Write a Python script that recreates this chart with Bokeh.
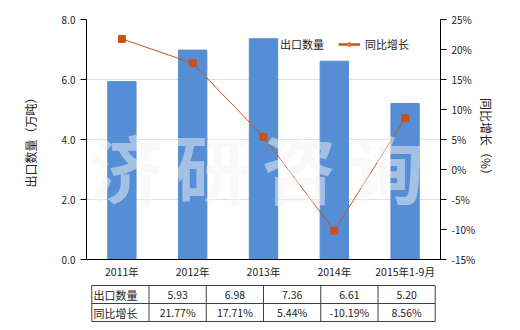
from bokeh.plotting import figure
from bokeh.models import (Range1d, LinearAxis, Legend, LegendItem, Label,
                          PrintfTickFormatter, ColumnDataSource, FixedTicker)
from bokeh.layouts import column
from bokeh.core.properties import value
from bokeh.embed import file_html
from bokeh.resources import INLINE

categories = ["2011年", "2012年", "2013年", "2014年", "2015年1-9月"]
export_qty = [5.93, 6.98, 7.36, 6.61, 5.20]
yoy_growth = [21.77, 17.71, 5.44, -10.19, 8.56]
qty_labels = ["5.93", "6.98", "7.36", "6.61", "5.20"]
growth_labels = ["21.77%", "17.71%", "5.44%", "-10.19%", "8.56%"]
row_names = ["出口数量", "同比增长"]
left_ticks = [0, 2, 4, 6, 8]
right_ticks = [-15, -10, -5, 0, 5, 10, 15, 20, 25]
watermark = ["济", "研", "咨", "询"]

FONT = "Noto Sans CJK SC"
BAR_COLOR = "#558ed5"
LINE_COLOR = "#c8521a"
TXT = "#222222"

p = figure(width=520, height=284, x_range=categories, y_range=Range1d(0, 8),
           output_backend="svg", toolbar_location=None,
           min_border_left=86, min_border_right=80, min_border_top=19,
           min_border_bottom=25)
p.outline_line_color = None
p.extra_y_ranges = {"pct": Range1d(-15, 25)}

src = ColumnDataSource(dict(cat=categories, qty=export_qty, g=yoy_growth))
bars = p.vbar(x="cat", top="qty", width=0.4, source=src, color=BAR_COLOR)
p.line(x="cat", y="g", source=src, y_range_name="pct", color=LINE_COLOR, line_width=1)
p.scatter(x="cat", y="g", source=src, y_range_name="pct", marker="square",
          size=7, color=LINE_COLOR)

# legend proxies (not drawn in the plot: NaN values)
proxy = ColumnDataSource(dict(cat=[categories[0]], g=[float("nan")]))
lg_line = p.line(x="cat", y="g", source=proxy, y_range_name="pct", color=LINE_COLOR, line_width=2.5)
lg_pt = p.scatter(x="cat", y="g", source=proxy, y_range_name="pct", marker="square",
                  size=6, color="#e07030")

# left axis
yax = p.yaxis[0]
yax.ticker = FixedTicker(ticks=left_ticks)
yax.formatter = PrintfTickFormatter(format="%.1f")
yax.axis_label = "出口数量（万吨）"
yax.axis_label_text_font = FONT
yax.axis_label_text_font_size = "12px"
yax.axis_label_text_font_style = "normal"
yax.axis_label_text_color = TXT
yax.axis_label_standoff = 20
yax.major_label_text_font = FONT
yax.major_label_text_font_size = "10px"
yax.major_label_text_color = TXT
yax.major_tick_out = 6
yax.major_tick_in = 0
yax.minor_tick_line_color = None
yax.axis_line_color = "black"
yax.major_tick_line_color = "black"

rax = LinearAxis(y_range_name="pct", ticker=FixedTicker(ticks=right_ticks),
                 formatter=PrintfTickFormatter(format="%d%%"))
rax.axis_label = "同比增长（%）"
rax.axis_label_text_font = FONT
rax.axis_label_text_font_size = "12px"
rax.axis_label_text_font_style = "normal"
rax.axis_label_text_color = TXT
rax.axis_label_standoff = 0
rax.major_label_text_font = FONT
rax.major_label_text_font_size = "10px"
rax.major_label_text_color = TXT
rax.major_tick_out = 6
rax.major_tick_in = 0
rax.minor_tick_line_color = None
rax.axis_line_color = "black"
p.add_layout(rax, "right")

xax = p.xaxis[0]
xax.major_label_text_font = FONT
xax.major_label_text_font_size = "10.5px"
xax.major_label_text_color = TXT
xax.major_tick_line_color = None
xax.major_tick_out = 0
xax.major_tick_in = 0
xax.axis_line_color = "black"
xax.major_label_standoff = 4

p.xgrid.grid_line_color = None
p.ygrid.ticker = FixedTicker(ticks=left_ticks)
p.ygrid.grid_line_color = "#e0e0e0"

legend = Legend(items=[LegendItem(label="出口数量", renderers=[bars]),
                       LegendItem(label="同比增长", renderers=[lg_line, lg_pt])],
                location=(167, 207), orientation="horizontal")
legend.border_line_color = None
legend.background_fill_alpha = 0
legend.label_text_font = FONT
legend.label_text_font_size = "11px"
legend.label_text_color = TXT
legend.glyph_width = 22
legend.glyph_height = 8
legend.label_standoff = 5
legend.spacing = 14
legend.padding = 0
legend.margin = 0
legend.label_height = 16
p.add_layout(legend)

# watermark
wm_x = [0.56, 1.77, 3.0, 4.24]
for ch, xx in zip(watermark, wm_x):
    p.add_layout(Label(x=xx, y=3.15, text=ch, text_font=FONT, text_font_size="74px",
                       text_font_style="bold", text_color="#f4f4f4", text_alpha=0.5,
                       text_align="center", text_baseline="middle"))

# table
n = len(categories)
t = figure(width=520, height=46, x_range=Range1d(-1.092, 5.092), y_range=Range1d(-0.5, 2.056),
           output_backend="svg", toolbar_location=None,
           x_axis_location=None, y_axis_location=None,
           min_border_left=10, min_border_right=75, min_border_top=0, min_border_bottom=0)
t.outline_line_color = None
t.xgrid.visible = False
t.ygrid.visible = False
vx = list(range(-1, n + 1))
t.segment(x0=vx, x1=vx, y0=[0] * len(vx), y1=[2] * len(vx), line_color="#404040", line_width=1)
hy = [0, 1, 2]
t.segment(x0=[-1] * 3, x1=[n] * 3, y0=hy, y1=hy, line_color="#404040", line_width=1)
cx = [i + 0.5 for i in range(n)]
t.text(x=cx, y=[1.5] * n, text=qty_labels, text_font=value(FONT), text_font_size="10.5px",
       text_align="center", text_baseline="middle", text_color=TXT)
t.text(x=cx, y=[0.5] * n, text=growth_labels, text_font=value(FONT), text_font_size="10.5px",
       text_align="center", text_baseline="middle", text_color=TXT)
t.text(x=[-0.97, -0.97], y=[1.5, 0.5], text=row_names, text_font=value(FONT),
       text_font_size="11px", text_align="left", text_baseline="middle", text_color=TXT)

layout = column(p, t, spacing=0)
open("out.html", "w").write(file_html(layout, INLINE))
